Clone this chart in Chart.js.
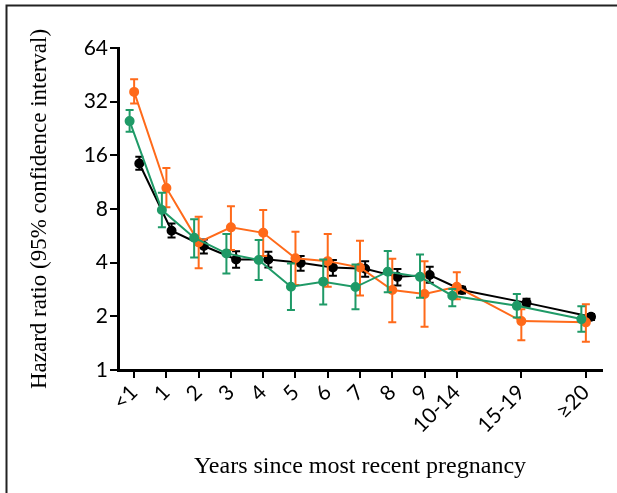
<!DOCTYPE html>
<html>
<head>
<meta charset="utf-8">
<script src="https://cdn.jsdelivr.net/npm/chart.js@4/dist/chart.umd.min.js"></script>
<style>
body{margin:0;background:#fff}
#wrap{width:617px;height:493px;position:relative}
</style>
</head>
<body>
<div id="wrap"><canvas id="hr-chart"></canvas></div>
<script>
// categories and their positions on the x axis (wider groups spaced by 2)
const categories = ["<1","1","2","3","4","5","6","7","8","9","10-14","15-19","\u226520"];
const xPos = [0,1,2,3,4,5,6,7,8,9,10,12,14];
const yTicks = [1,2,4,8,16,32,64];

// green series
const greenHR = [24.9,7.89,5.52,4.51,4.14,2.93,3.13,2.92,3.56,3.33,2.61,2.29,1.93];
const greenLo = [21.7,6.31,4.28,3.48,3.2,2.17,2.33,2.19,2.73,2.54,2.28,1.97,1.64];
const greenHi = [28.7,9.86,7.0,5.79,5.36,3.96,4.17,3.91,4.65,4.45,2.85,2.67,2.28];

// orange series
const orangeHR = [36.3,10.5,5.2,6.31,5.88,4.23,4.08,3.76,2.81,2.67,2.93,1.88,1.85];
const orangeLo = [31.3,8.17,3.72,4.71,4.36,3.0,2.93,2.62,1.85,1.75,2.49,1.47,1.44];
const orangeHi = [42.8,13.6,7.23,8.3,7.89,5.96,5.79,5.31,4.21,4.08,3.54,2.19,2.34];

// black series
const blackHR = [14.4,6.04,4.96,4.17,4.17,3.99,3.76,3.70,3.33,3.41,2.81,2.38,1.99];
const blackLo = [13.3,5.54,4.51,3.75,3.76,3.6,3.38,3.33,2.98,3.09,2.69,2.26,1.91];
const blackHi = [15.7,6.64,5.4,4.63,4.6,4.36,4.14,4.08,3.68,3.79,2.93,2.51,2.06];

const GREEN="#1f9a67", ORANGE="#ff6a1a", BLACK="#000000";

// small horizontal dodge so the three series do not overlap
function series(label, hr, lo, hi, color, dodge){
    return {
        label:label,
        data: hr.map((v,i)=>({x:xPos[i]+dodge, y:v, lo:lo[i], hi:hi[i]})),
        borderColor:color,
        backgroundColor:color,
        borderWidth:2,
        pointRadius:4,
        pointHoverRadius:4,
        tension:0
    };
}

const errorBars={
    id:"errorBars",
    afterDatasetDraw(chart,args){
        const ds=chart.data.datasets[args.index];
        const meta=args.meta;
        const y=chart.scales.y, ctx=chart.ctx;
        ctx.save();
        ctx.strokeStyle=ds.borderColor;
        ctx.lineWidth=2;
        meta.data.forEach((pt,i)=>{
            const d=ds.data[i];
            const yl=y.getPixelForValue(d.lo), yh=y.getPixelForValue(d.hi);
            ctx.beginPath();
            ctx.moveTo(pt.x,yl); ctx.lineTo(pt.x,yh);
            ctx.moveTo(pt.x-4,yl); ctx.lineTo(pt.x+4,yl);
            ctx.moveTo(pt.x-4,yh); ctx.lineTo(pt.x+4,yh);
            ctx.stroke();
        });
        ctx.restore();
    }
};

const frame={
    id:"frame",
    beforeDraw(chart){
        const ctx=chart.ctx;
        ctx.save();
        ctx.strokeStyle="#222";
        ctx.lineWidth=2;
        ctx.beginPath();
        ctx.moveTo(6.5,493); ctx.lineTo(6.5,5.5); ctx.lineTo(617,5.5);
        ctx.stroke();
        ctx.restore();
    }
};

const tickFont={family:"Lato",size:21};

new Chart(document.getElementById("hr-chart"),{
    type:"line",
    data:{
        datasets:[
            series("green",greenHR,greenLo,greenHi,GREEN,-0.14),
            series("orange",orangeHR,orangeLo,orangeHi,ORANGE,0),
            series("black",blackHR,blackLo,blackHi,BLACK,0.16)
        ]
    },
    options:{
        responsive:true,
        maintainAspectRatio:false,
        animation:false,
        layout:{padding:{top:48,right:15,left:0,bottom:0}},
        plugins:{legend:{display:false},tooltip:{enabled:false}},
        scales:{
            x:{
                type:"linear",
                min:-0.5,
                max:14.5,
                afterBuildTicks:(s)=>{ s.ticks=xPos.map(v=>({value:v})); },
                afterFit:(s)=>{ s.height=123; },
                grid:{drawOnChartArea:false,drawTicks:true,tickLength:8,color:"#000",lineWidth:2},
                border:{color:"#000",width:3},
                ticks:{
                    autoSkip:false,
                    minRotation:45,
                    maxRotation:45,
                    padding:2,
                    color:"#000",
                    font:tickFont,
                    callback:(v)=>categories[xPos.indexOf(v)]
                },
                title:{display:true,text:"Years since most recent pregnancy",color:"#000",
                    font:{family:"Liberation Serif",size:24,lineHeight:1.2},padding:{top:0,bottom:12}}
            },
            y:{
                type:"logarithmic",
                min:1,
                max:64,
                afterBuildTicks:(s)=>{ s.ticks=yTicks.map(v=>({value:v})); },
                afterFit:(s)=>{ s.width=118; },
                grid:{drawOnChartArea:false,drawTicks:true,tickLength:8,color:"#000",lineWidth:2},
                border:{color:"#000",width:3},
                ticks:{
                    padding:2,
                    color:"#000",
                    font:tickFont,
                    callback:(v)=>String(v)
                },
                title:{display:true,text:"Hazard ratio (95% confidence interval)",color:"#000",
                    font:{family:"Liberation Serif",size:23,lineHeight:1.2},padding:{top:26,bottom:0}}
            }
        }
    },
    plugins:[errorBars,frame]
});
</script>
</body>
</html>
